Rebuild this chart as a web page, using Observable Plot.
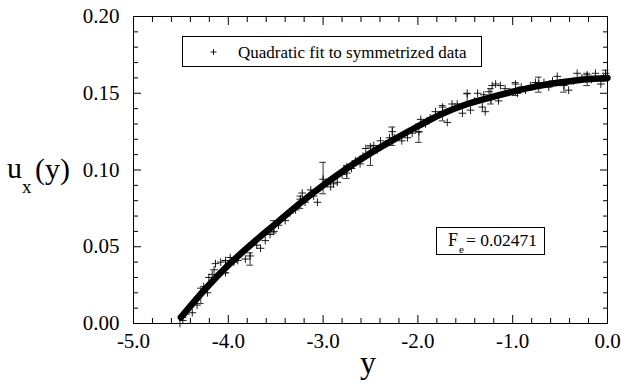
<!DOCTYPE html>
<html><head><meta charset="utf-8">
<script src="https://cdn.jsdelivr.net/npm/d3@7"></script>
<script src="https://cdn.jsdelivr.net/npm/@observablehq/plot@0.6"></script>
<style>
body{margin:0;background:#fff}
#chart{width:621px;height:389px}
#chart svg, #chart svg text {font-family: "Liberation Serif", "DejaVu Serif", serif !important;}
</style>
</head><body><div id="chart"></div>
<script>
// Fitted quadratic curve
const curveX = [-4.5,-4.25,-4.0,-3.75,-3.5,-3.25,-3.0,-2.75,-2.5,-2.25,-2.0,-1.75,-1.5,-1.25,-1.0,-0.75,-0.5,-0.25,0];
const curveU = [0.004,0.022,0.038,0.052,0.065,0.078,0.090,0.101,0.111,0.120,0.1285,0.1365,0.1425,0.147,0.151,0.1545,0.157,0.159,0.160];

// Symmetrized data points
const dataX = [-4.51,-4.48,-4.45,-4.38,-4.33,-4.26,-4.22,-4.205,-4.17,-4.15,-4.135,-4.08,-4.03,-4.03,-3.98,-3.94,-3.90,-3.82,-3.77,-3.70,-3.66,-3.61,-3.56,-3.52,-3.47,-3.40,-3.35,-3.29,-3.24,-3.22,-3.19,-3.13,-3.10,-3.06,-3.00,-2.96,-2.92,-2.89,-2.85,-2.80,-2.75,-2.75,-2.70,-2.66,-2.61,-2.58,-2.55,-2.50,-2.465,-2.43,-2.395,-2.34,-2.30,-2.27,-2.25,-2.17,-2.11,-2.06,-2.02,-1.99,-1.97,-1.92,-1.87,-1.815,-1.77,-1.74,-1.69,-1.64,-1.585,-1.53,-1.48,-1.445,-1.40,-1.37,-1.32,-1.305,-1.29,-1.25,-1.23,-1.216,-1.18,-1.15,-1.13,-1.08,-1.03,-0.97,-0.95,-0.91,-0.865,-0.81,-0.76,-0.725,-0.67,-0.62,-0.58,-0.53,-0.50,-0.46,-0.41,-0.36,-0.32,-0.27,-0.215,-0.17,-0.127,-0.07,-0.04,-0.02];
const dataU = [0.000,0.002,0.006,0.007,0.012,0.024,0.020,0.030,0.032,0.035,0.039,0.040,0.041,0.033,0.043,0.040,0.041,0.042,0.044,0.051,0.049,0.054,0.058,0.060,0.064,0.067,0.072,0.074,0.081,0.085,0.079,0.087,0.083,0.079,0.094,0.091,0.089,0.091,0.092,0.097,0.098,0.102,0.101,0.106,0.104,0.109,0.114,0.115,0.116,0.113,0.119,0.117,0.121,0.125,0.121,0.119,0.121,0.124,0.128,0.125,0.133,0.130,0.134,0.138,0.136,0.141,0.131,0.143,0.143,0.137,0.150,0.139,0.145,0.150,0.141,0.149,0.138,0.151,0.146,0.155,0.156,0.145,0.155,0.153,0.151,0.156,0.150,0.154,0.152,0.155,0.157,0.156,0.157,0.154,0.158,0.161,0.157,0.155,0.152,0.158,0.163,0.160,0.162,0.159,0.163,0.156,0.160,0.163];

// Error bars
const barX  = [-4.29,-4.03,-3.77,-3.52,-3.24,-3.00,-2.75,-2.50,-2.27,-1.99,-1.74,-1.48,-1.23,-0.97,-0.725,-0.46,-0.215,-0.02];
const barLo = [0.013,0.033,0.038,0.059,0.075,0.0845,0.0945,0.103,0.116,0.118,0.132,0.142,0.143,0.1485,0.1507,0.1507,0.155,0.158];
const barHi = [0.023,0.041,0.046,0.067,0.083,0.105,0.103,0.116,0.128,0.1246,0.142,0.1496,0.153,0.157,0.1605,0.158,0.163,0.165];

const xMajor = [-5,-4,-3,-2,-1,0];
const xMinor = [-4.8,-4.6,-4.4,-4.2,-3.8,-3.6,-3.4,-3.2,-2.8,-2.6,-2.4,-2.2,-1.8,-1.6,-1.4,-1.2,-0.8,-0.6,-0.4,-0.2];
const yMajor = [0,0.05,0.10,0.15,0.20];
const yMinor = [0.01,0.02,0.03,0.04,0.06,0.07,0.08,0.09,0.11,0.12,0.13,0.14,0.16,0.17,0.18,0.19];

const legendLabel = "Quadratic fit to symmetrized data";
const feValue = "0.02471";
const xTitle = "y";

const curve = curveX.map((x,i)=>({x, u: curveU[i]}));
const pts = dataX.map((x,i)=>({x, u: dataU[i]}));
const bars = barX.map((x,i)=>({x, lo: barLo[i], hi: barHi[i]}));
const cap = 0.035;

const font = "Liberation Serif, DejaVu Serif, serif";
const chart = Plot.plot({
  width: 621, height: 389,
  marginLeft: 133, marginRight: 14, marginTop: 16, marginBottom: 66,
  style: {fontFamily: font, fontSize: "21px", background: "white", color: "black"},
  x: {domain: [-5, 0]},
  y: {domain: [0, 0.2]},
  marks: [
    Plot.ruleX(bars, {x: "x", y1: "lo", y2: "hi", stroke: "#333", strokeWidth: 1}),
    Plot.ruleY(bars, {y: "lo", x1: d => d.x - cap, x2: d => d.x + cap, stroke: "#333", strokeWidth: 1}),
    Plot.ruleY(bars, {y: "hi", x1: d => d.x - cap, x2: d => d.x + cap, stroke: "#333", strokeWidth: 1}),
    Plot.dot(pts, {x: "x", y: "u", symbol: "plus", r: 2.6, stroke: "black", strokeWidth: 0.9}),
    Plot.line(curve, {x: "x", y: "u", stroke: "black", strokeWidth: 6.5, strokeLinecap: "round", curve: "monotone-x"}),
    Plot.frame({stroke: "black", strokeWidth: 1}),
    // inward ticks
    Plot.axisX({anchor: "bottom", ticks: xMajor, tickSize: -8, text: null, label: null}),
    Plot.axisX({anchor: "bottom", ticks: xMinor, tickSize: -5, text: null, label: null}),
    Plot.axisX({anchor: "top", ticks: xMajor, tickSize: -8, text: null, label: null}),
    Plot.axisX({anchor: "top", ticks: xMinor, tickSize: -5, text: null, label: null}),
    Plot.axisY({anchor: "left", ticks: yMajor, tickSize: -8, text: null, label: null}),
    Plot.axisY({anchor: "left", ticks: yMinor, tickSize: -5, text: null, label: null}),
    Plot.axisY({anchor: "right", ticks: yMajor, tickSize: -8, text: null, label: null}),
    Plot.axisY({anchor: "right", ticks: yMinor, tickSize: -5, text: null, label: null}),
    // labels
    Plot.axisX({anchor: "bottom", ticks: xMajor, tickSize: 0, tickPadding: 10, tickFormat: d => d.toFixed(1), fontSize: 21, label: null}),
    Plot.axisY({anchor: "left", ticks: yMajor, tickSize: 0, tickPadding: 14, tickFormat: d => d.toFixed(2), fontSize: 21, label: null})
  ]
});
document.getElementById("chart").appendChild(chart);

const svg = d3.select(chart);
const ann = svg.append("g").attr("fill", "black").attr("text-anchor", "start");
function txt(x, y, size, s, anchor) {
  return ann.append("text").attr("x", x).attr("y", y).attr("font-size", size)
    .attr("text-anchor", anchor || "start").style("text-anchor", anchor || "start").text(s);
}
// axis titles
txt(368, 373, 32, xTitle, "middle");
txt(7, 178, 30, "u");
txt(22, 193, 19, "x");
txt(35, 179, 30, "(y)");
// legend box
ann.append("rect").attr("x", 182.5).attr("y", 36.5).attr("width", 299).attr("height", 30).attr("fill", "white").attr("stroke", "black");
ann.append("path").attr("d", "M210.5,52h6M213.5,49v6").attr("stroke", "black").attr("stroke-width", 0.9).attr("fill", "none");
txt(238, 57.5, 17, legendLabel);
// F_e box
ann.append("rect").attr("x", 436.5).attr("y", 227.5).attr("width", 108).attr("height", 27).attr("fill", "white").attr("stroke", "black");
txt(448, 245.5, 18, "F");
txt(459, 253, 11, "e");
txt(466, 245.5, 17.5, "= " + feValue);
</script>
</body></html>
